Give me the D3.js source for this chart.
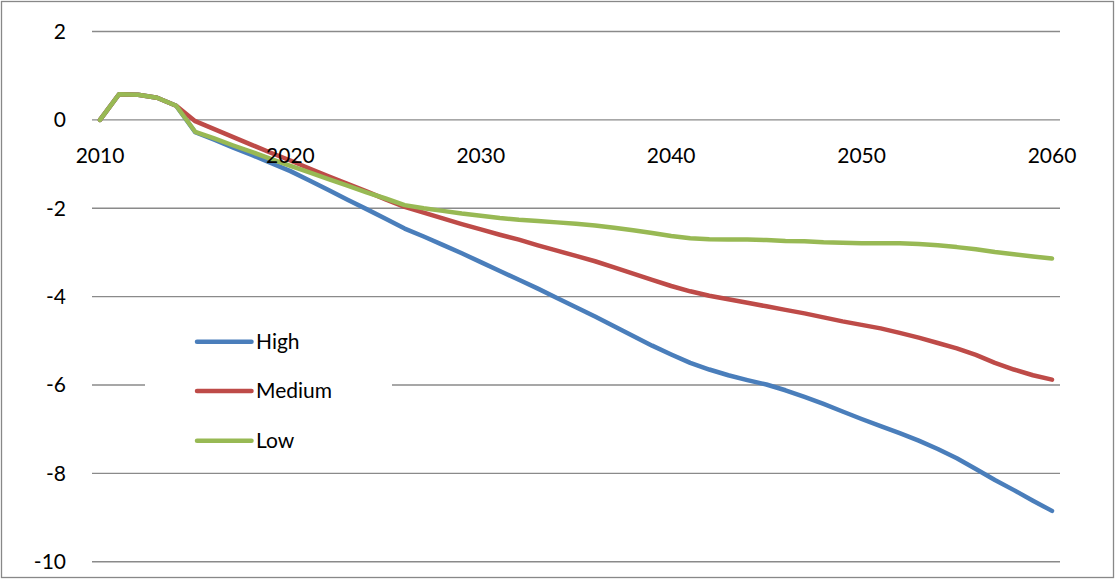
<!DOCTYPE html>
<html><head><meta charset="utf-8">
<script src="https://cdn.jsdelivr.net/npm/d3@7"></script>
<style>body{margin:0;background:#fff}svg{display:block}</style>
</head><body>
<script>
const years = d3.range(2010, 2061);
const high = [0,0.58,0.57,0.50,0.32,-0.28,-0.45,-0.63,-0.80,-0.98,-1.16,
  -1.37,-1.59,-1.81,-2.02,-2.24,-2.46,-2.64,-2.83,-3.02,-3.22,
  -3.42,-3.62,-3.82,-4.03,-4.24,-4.45,-4.67,-4.89,-5.11,-5.31,
  -5.50,-5.65,-5.78,-5.89,-5.99,-6.12,-6.27,-6.43,-6.60,-6.77,
  -6.93,-7.09,-7.26,-7.45,-7.66,-7.90,-8.15,-8.38,-8.62,-8.85];
const medium = [0,0.58,0.57,0.50,0.32,-0.03,-0.21,-0.39,-0.57,-0.75,-0.92,
  -1.10,-1.28,-1.45,-1.62,-1.80,-1.97,-2.10,-2.23,-2.36,-2.48,
  -2.60,-2.71,-2.84,-2.96,-3.08,-3.20,-3.34,-3.48,-3.62,-3.76,
  -3.88,-3.98,-4.06,-4.14,-4.22,-4.30,-4.38,-4.47,-4.56,-4.64,
  -4.72,-4.82,-4.93,-5.05,-5.17,-5.32,-5.50,-5.65,-5.78,-5.88];
const low = [0,0.58,0.57,0.50,0.32,-0.27,-0.42,-0.58,-0.73,-0.89,-1.04,
  -1.19,-1.34,-1.49,-1.64,-1.78,-1.93,-2.00,-2.06,-2.12,-2.17,
  -2.22,-2.26,-2.29,-2.32,-2.35,-2.39,-2.44,-2.50,-2.56,-2.63,
  -2.68,-2.70,-2.71,-2.71,-2.72,-2.74,-2.75,-2.77,-2.78,-2.79,
  -2.79,-2.79,-2.81,-2.84,-2.88,-2.93,-2.99,-3.04,-3.09,-3.14];
const seriesNames = ["High", "Medium", "Low"];
const seriesColors = ["#4A7EBB", "#BE4B48", "#98B954"];
const yTicks = [2, 0, -2, -4, -6, -8, -10];
const xTicks = [2010, 2020, 2030, 2040, 2050, 2060];

const W = 1115, H = 579;
const svg = d3.select("body").append("svg").attr("width", W).attr("height", H);
const font = "Lato, 'Open Sans', sans-serif";

svg.append("rect").attr("x", 1.5).attr("y", 1.5).attr("width", W - 3).attr("height", H - 3)
  .attr("fill", "#fff").attr("stroke", "#888").attr("stroke-width", 1.3);

const x = d3.scaleLinear().domain([2010, 2060]).range([100, 1052]);
const y = d3.scaleLinear().domain([-10, 2]).range([561.7, 31.5]);
const gx0 = 92, gx1 = 1060;

// gridlines
svg.append("g").selectAll("line").data(yTicks).join("line")
  .attr("x1", gx0).attr("x2", gx1)
  .attr("y1", d => y(d)).attr("y2", d => y(d))
  .attr("stroke", "#8a8a8a").attr("stroke-width", 1.4);

// y labels
svg.append("g").selectAll("text").data(yTicks).join("text")
  .attr("x", 66).attr("y", d => y(d)).attr("dy", "0.35em")
  .attr("text-anchor", "end").attr("font-family", font).attr("font-size", 21)
  .text(d => d);

const line = d3.line().x((d, i) => x(years[i])).y(d => y(d));
const allSeries = [high, medium, low];
svg.append("g").selectAll("path").data(allSeries).join("path")
  .attr("d", d => line(d)).attr("fill", "none")
  .attr("stroke", (d, i) => seriesColors[i]).attr("stroke-width", 4.5)
  .attr("stroke-linecap", "round").attr("stroke-linejoin", "round");

// x labels (axis crosses at 0), drawn over the lines
svg.append("g").selectAll("text").data(xTicks).join("text")
  .attr("x", d => x(d)).attr("y", 163)
  .attr("text-anchor", "middle").attr("font-family", font).attr("font-size", 21)
  .text(d => d);

// legend
const lg = svg.append("g");
lg.append("rect").attr("x", 145).attr("y", 310).attr("width", 247).attr("height", 158).attr("fill", "#fff");
const ly = [341.7, 391, 440.7];
seriesNames.forEach((n, i) => {
  lg.append("line").attr("x1", 197).attr("x2", 251.5).attr("y1", ly[i]).attr("y2", ly[i])
    .attr("stroke", seriesColors[i]).attr("stroke-width", 4.5).attr("stroke-linecap", "round");
  lg.append("text").attr("x", 256).attr("y", ly[i]).attr("dy", "0.35em")
    .attr("font-family", font).attr("font-size", 21).text(n);
});
</script>
</body></html>
